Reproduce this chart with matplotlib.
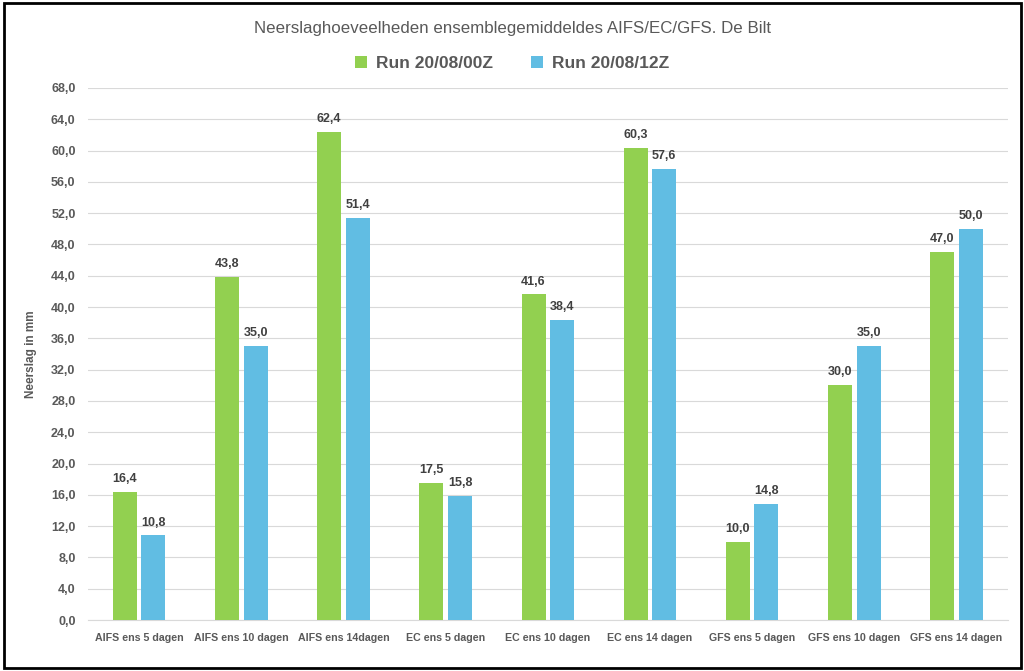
import matplotlib
matplotlib.use("Agg")
import matplotlib.pyplot as plt
import numpy as np
from matplotlib.patches import Rectangle

categories = ["AIFS ens 5 dagen", "AIFS ens 10 dagen", "AIFS ens 14dagen",
              "EC ens 5 dagen", "EC ens 10 dagen", "EC ens 14 dagen",
              "GFS ens 5 dagen", "GFS ens 10 dagen", "GFS ens 14 dagen"]
run_00z = [16.4, 43.8, 62.4, 17.5, 41.6, 60.3, 10.0, 30.0, 47.0]
run_12z = [10.8, 35.0, 51.4, 15.8, 38.4, 57.6, 14.8, 35.0, 50.0]
series_names = ["Run 20/08/00Z", "Run 20/08/12Z"]
yticks = np.arange(0, 68.1, 4)

GREEN = "#92D050"
BLUE = "#61BDE3"
GREY = "#595959"
plt.rcParams["font.family"] = ["Liberation Sans", "DejaVu Sans"]

fig = plt.figure(figsize=(10.24, 6.71), dpi=100)
ax = fig.add_axes([0.086, 0.076, 0.898, 0.793])

x = np.arange(len(categories))
w = 0.235
off = 0.14
b1 = ax.bar(x - off, run_00z, w, color=GREEN, label=series_names[0], zorder=3)
b2 = ax.bar(x + off, run_12z, w, color=BLUE, label=series_names[1], zorder=3)

# data labels above each bar, Dutch decimal comma
for bars in (b1, b2):
    for r in bars:
        h = r.get_height()
        ax.annotate(f"{h:.1f}".replace(".", ","), (r.get_x() + r.get_width() / 2, h),
                    xytext=(0, 5), textcoords="offset points", ha="center", va="bottom",
                    fontsize=9, fontweight="bold", color="#404040")

ax.set_xlim(-0.5, len(categories) - 0.5)
ax.set_ylim(0, 68)
ax.set_yticks(yticks)
ax.set_yticklabels([f"{v:.1f}".replace(".", ",") for v in yticks])
ax.set_xticks(x)
ax.set_xticklabels(categories)
ax.tick_params(axis="x", length=0, labelsize=7.7, colors=GREY, pad=9)
ax.tick_params(axis="y", length=0, labelsize=9, colors=GREY, pad=9)
for lbl in ax.get_xticklabels() + ax.get_yticklabels():
    lbl.set_fontweight("bold")
ax.grid(axis="y", color="#D9D9D9", linewidth=0.8, zorder=0)
for s in ax.spines.values():
    s.set_visible(False)
ax.spines["bottom"].set_visible(True)
ax.spines["bottom"].set_color("#D9D9D9")

ax.set_ylabel("Neerslag in mm", fontsize=8.5, fontweight="bold", color=GREY, labelpad=10)

fig.text(0.5, 0.957, "Neerslaghoeveelheden ensemblegemiddeldes AIFS/EC/GFS. De Bilt",
         ha="center", va="center", fontsize=12.2, color=GREY)
leg = fig.legend(handles=[b1, b2], loc="center", bbox_to_anchor=(0.5, 0.905), ncol=2,
                 frameon=False, handlelength=0.7, handleheight=0.7, columnspacing=2.2,
                 handletextpad=0.5, prop={"size": 12.5, "weight": "bold"})
for t in leg.get_texts():
    t.set_color(GREY)

fig.patches.append(Rectangle((0.004, 0.005), 0.993, 0.99, transform=fig.transFigure,
                             fill=False, edgecolor="black", linewidth=2))

fig.savefig("out.png", dpi=100)
